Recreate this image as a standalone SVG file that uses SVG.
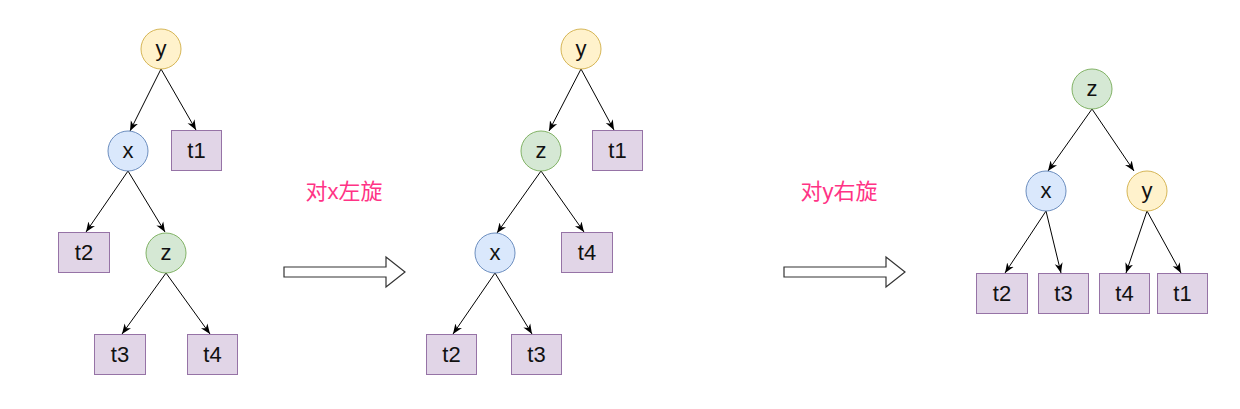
<svg xmlns="http://www.w3.org/2000/svg" width="1240" height="409" viewBox="0 0 1240 409">
<defs>
<style>
.lbl{font-family:"Liberation Sans",Arial,sans-serif;font-size:22px;fill:#111;text-anchor:middle}
.cap{font-family:"Liberation Sans","Noto Sans CJK SC",sans-serif;font-size:22px;fill:#ff3385;text-anchor:middle}
.ny{fill:#fff2cc;stroke:#d6b656;stroke-width:1}
.nx{fill:#dae8fc;stroke:#6c8ebf;stroke-width:1}
.nz{fill:#d5e8d4;stroke:#82b366;stroke-width:1}
.leaf{fill:#e1d5e7;stroke:#9673a6;stroke-width:1}
.edge{stroke:#000;stroke-width:1;fill:none;marker-end:url(#ah)}
.big{fill:#fff;stroke:#333;stroke-width:1.2}
</style>
<marker id="ah" viewBox="0 0 10 10" markerWidth="10" markerHeight="10" markerUnits="userSpaceOnUse" refX="10" refY="5" orient="auto">
<path d="M0,1 L10,5 L0,9 L3,5 Z" fill="#000"/>
</marker>
</defs>
<rect width="1240" height="409" fill="#fff"/>

<g id="connectors">
<line class="edge" x1="161" y1="69" x2="130" y2="131"/>
<line class="edge" x1="161" y1="69" x2="196" y2="130"/>
<line class="edge" x1="128" y1="171" x2="86" y2="232"/>
<line class="edge" x1="128" y1="171" x2="165" y2="232"/>
<line class="edge" x1="166" y1="273" x2="122" y2="334"/>
<line class="edge" x1="166" y1="273" x2="210" y2="334"/>
<line class="edge" x1="581" y1="69" x2="549" y2="131"/>
<line class="edge" x1="581" y1="69" x2="614" y2="130"/>
<line class="edge" x1="541" y1="171" x2="497" y2="233"/>
<line class="edge" x1="541" y1="171" x2="584" y2="232"/>
<line class="edge" x1="495" y1="273" x2="453" y2="334"/>
<line class="edge" x1="495" y1="273" x2="532" y2="334"/>
<line class="edge" x1="1092" y1="109" x2="1048" y2="171"/>
<line class="edge" x1="1092" y1="109" x2="1134" y2="171"/>
<line class="edge" x1="1046" y1="211" x2="1005" y2="273"/>
<line class="edge" x1="1046" y1="211" x2="1061" y2="273"/>
<line class="edge" x1="1147" y1="211" x2="1126" y2="273"/>
<line class="edge" x1="1147" y1="211" x2="1181" y2="273"/>
</g>

<g id="t1-y"><circle class="ny" cx="161" cy="49" r="20"/><text class="lbl" x="161" y="56">y</text></g>
<g id="t1-x"><circle class="nx" cx="128" cy="151" r="20"/><text class="lbl" x="128" y="158">x</text></g>
<g id="t1-t1"><rect class="leaf" x="171.5" y="130.5" width="50" height="40"/><text class="lbl" x="196.5" y="158">t1</text></g>
<g id="t1-t2"><rect class="leaf" x="58.5" y="232.5" width="51" height="40"/><text class="lbl" x="84" y="260">t2</text></g>
<g id="t1-z"><circle class="nz" cx="166" cy="253" r="20"/><text class="lbl" x="166" y="260">z</text></g>
<g id="t1-t3"><rect class="leaf" x="94.5" y="334.5" width="51" height="40"/><text class="lbl" x="120" y="362">t3</text></g>
<g id="t1-t4"><rect class="leaf" x="187.5" y="334.5" width="50" height="40"/><text class="lbl" x="212.5" y="362">t4</text></g>

<g id="step1">
<text class="cap" x="344" y="199">对x左旋</text>
<polygon class="big" points="284,267 386,267 386,257 405,272 386,287 386,277 284,277"/>
</g>

<g id="t2-y"><circle class="ny" cx="581" cy="49" r="20"/><text class="lbl" x="581" y="56">y</text></g>
<g id="t2-z"><circle class="nz" cx="541" cy="151" r="20"/><text class="lbl" x="541" y="158">z</text></g>
<g id="t2-t1"><rect class="leaf" x="592.5" y="130.5" width="50" height="40"/><text class="lbl" x="617.5" y="158">t1</text></g>
<g id="t2-x"><circle class="nx" cx="495" cy="253" r="20"/><text class="lbl" x="495" y="260">x</text></g>
<g id="t2-t4"><rect class="leaf" x="561.5" y="232.5" width="51" height="40"/><text class="lbl" x="587" y="260">t4</text></g>
<g id="t2-t2"><rect class="leaf" x="426.5" y="334.5" width="50" height="40"/><text class="lbl" x="451.5" y="362">t2</text></g>
<g id="t2-t3"><rect class="leaf" x="511.5" y="334.5" width="50" height="40"/><text class="lbl" x="536.5" y="362">t3</text></g>

<g id="step2">
<text class="cap" x="839" y="199">对y右旋</text>
<polygon class="big" points="784,267 886,267 886,257 905,272 886,287 886,277 784,277"/>
</g>

<g id="t3-z"><circle class="nz" cx="1092" cy="89" r="20"/><text class="lbl" x="1092" y="96">z</text></g>
<g id="t3-x"><circle class="nx" cx="1046" cy="191" r="20"/><text class="lbl" x="1046" y="198">x</text></g>
<g id="t3-y"><circle class="ny" cx="1147" cy="191" r="20"/><text class="lbl" x="1147" y="198">y</text></g>
<g id="t3-t2"><rect class="leaf" x="976.5" y="273.5" width="51" height="40"/><text class="lbl" x="1002" y="301">t2</text></g>
<g id="t3-t3"><rect class="leaf" x="1038.5" y="273.5" width="50" height="40"/><text class="lbl" x="1063.5" y="301">t3</text></g>
<g id="t3-t4"><rect class="leaf" x="1099.5" y="273.5" width="50" height="40"/><text class="lbl" x="1124.5" y="301">t4</text></g>
<g id="t3-t1"><rect class="leaf" x="1157.5" y="273.5" width="50" height="40"/><text class="lbl" x="1182.5" y="301">t1</text></g>
</svg>
